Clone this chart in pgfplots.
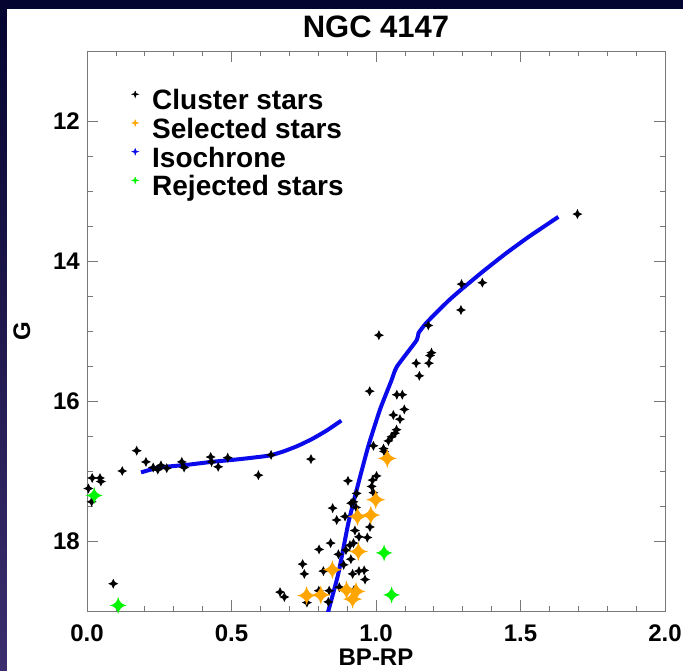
\documentclass[border=0pt]{standalone}
\usepackage{fontspec}
\setmainfont{Liberation Sans}
\usepackage{pgfplots}
\pgfplotsset{compat=1.18}

\definecolor{slidebg}{RGB}{4,4,48}
\definecolor{slidepurple}{RGB}{60,46,110}
\definecolor{selorange}{RGB}{255,165,0}
\definecolor{rejgreen}{RGB}{0,245,0}
\definecolor{isoblue}{RGB}{10,10,235}
\definecolor{axgray}{RGB}{120,120,120}

% four-pointed concave star, as IDL usersym
\pgfdeclareplotmark{sparkle}{%
  \pgfpathmoveto{\pgfqpoint{0pt}{\pgfplotmarksize}}%
  \pgfpathquadraticcurveto{\pgfqpoint{0.15\pgfplotmarksize}{0.15\pgfplotmarksize}}{\pgfqpoint{\pgfplotmarksize}{0pt}}%
  \pgfpathquadraticcurveto{\pgfqpoint{0.15\pgfplotmarksize}{-0.15\pgfplotmarksize}}{\pgfqpoint{0pt}{-\pgfplotmarksize}}%
  \pgfpathquadraticcurveto{\pgfqpoint{-0.15\pgfplotmarksize}{-0.15\pgfplotmarksize}}{\pgfqpoint{-\pgfplotmarksize}{0pt}}%
  \pgfpathquadraticcurveto{\pgfqpoint{-0.15\pgfplotmarksize}{0.15\pgfplotmarksize}}{\pgfqpoint{0pt}{\pgfplotmarksize}}%
  \pgfpathclose
  \pgfusepathqfill}

\pgfplotsset{
  legstar/.style={legend image code/.code={%
    \path (-4pt,0pt) (15pt,0pt);
    \filldraw[#1, line width=0.5pt] (0pt,9pt) +(0pt,3.3pt) .. controls +(0.5pt,-2.8pt) .. +(3.3pt,0pt)
      .. controls +(-2.8pt,-0.5pt) .. +(0pt,-3.3pt)
      .. controls +(-0.5pt,2.8pt) .. +(-3.3pt,0pt)
      .. controls +(2.8pt,0.5pt) .. +(0pt,3.3pt);}}
}

\begin{document}
\begin{tikzpicture}
\useasboundingbox (0pt,0pt) rectangle (683pt,671pt);
\fill[slidebg] (0pt,0pt) rectangle (683pt,671pt);
\shade[top color=slidebg, bottom color=slidepurple] (0pt,0pt) rectangle (7pt,671pt);
\fill[white] (7pt,0pt) rectangle (683pt,662pt);
\begin{axis}[
  at={(87pt,60pt)}, anchor=south west,
  scale only axis, width=578pt, height=560pt,
  xmin=0, xmax=2, ymin=11, ymax=19, y dir=reverse,
  xtick={0,0.5,1,1.5,2}, minor x tick num=4,
  ytick={12,14,16,18}, minor y tick num=3,
  xticklabel style={/pgf/number format/fixed, /pgf/number format/fixed zerofill,
    /pgf/number format/precision=1, inner sep=0pt, yshift=-14pt},
  yticklabel style={inner sep=0pt, xshift=-7pt},
  /pgf/number format/assume math mode=true,
  tick label style={font=\bfseries\fontsize{24}{24}\selectfont},
  tick align=inside, major tick length=11pt, minor tick length=5.5pt,
  tick style={axgray, line width=0.8pt},
  axis line style={axgray, line width=0.9pt},
  title={NGC 4147},
  title style={font=\bfseries\fontsize{31}{31}\selectfont, at={(0.5,1.032)}, anchor=center},
  xlabel={BP-RP},
  xlabel style={font=\bfseries\fontsize{24}{24}\selectfont, at={(0.5,-0.082)}, anchor=center},
  ylabel={G},
  ylabel style={font=\bfseries\fontsize{24}{24}\selectfont, at={(-0.1125,0.5)}, anchor=center, rotate=0},
  unbounded coords=jump,
  legend cell align=left,
  legend style={draw=none, fill=none, inner sep=0pt, row sep=0pt,
    at={(0.0727,0.9327)}, anchor=north west,
    font=\bfseries\fontsize{28}{28}\selectfont,
    nodes={inner sep=0pt, text height=21pt, text depth=7.7pt}},
]

% cluster stars
\addplot[only marks, mark=sparkle, mark size=5pt, color=black, legstar=black] coordinates {
(0.005,17.25) (0.016,17.44) (0.018,17.10) (0.045,17.10) (0.048,17.15)
(0.091,18.61) (0.122,17.00) (0.172,16.71) (0.204,16.87) (0.229,16.95)
(0.245,16.98) (0.256,16.92) (0.276,16.96) (0.328,16.87) (0.336,16.95)
(0.428,16.80) (0.431,16.87) (0.454,16.94) (0.487,16.81) (0.593,17.06)
(0.637,16.77) (0.775,16.83)
(0.668,18.73) (0.683,18.80) (0.746,18.33) (0.752,18.47) (0.761,18.88)
(0.802,18.71) (0.803,18.12) (0.818,18.43) (0.835,18.87) (0.838,18.71)
(0.843,18.03) (0.850,17.53) (0.864,17.70) (0.870,18.19) (0.873,18.66)
(0.888,18.34) (0.893,17.65) (0.896,18.13) (0.903,17.14) (0.910,18.06)
(0.913,18.26) (0.914,17.46) (0.919,18.47) (0.922,17.44) (0.922,18.03)
(0.924,18.70) (0.927,17.85) (0.931,17.52) (0.933,17.32) (0.941,17.94)
(0.941,18.43) (0.959,18.42) (0.962,18.55) (0.970,17.95) (0.979,17.80)
(0.985,17.22) (0.988,17.13) (0.991,17.31) (0.991,16.64) (1.002,17.07)
(1.026,16.68) (1.028,16.72) (1.043,16.57) (1.054,16.51) (1.066,16.46)
(1.071,16.41) (1.060,16.20) (1.083,16.26) (1.098,16.12)
(0.978,15.86) (1.072,15.91) (1.091,15.91) (1.010,15.06)
(1.139,15.46) (1.150,15.64) (1.183,15.46) (1.187,15.35) (1.192,15.31)
(1.181,14.92) (1.294,14.70) (1.296,14.33) (1.368,14.31) (1.697,13.33)
};
\addlegendentry{Cluster stars}

% selected stars
\addplot[only marks, mark=sparkle, mark size=9.5pt, color=selorange, legstar=selorange] coordinates {
(1.039,16.82) (0.999,17.41) (0.982,17.63) (0.936,17.65) (0.939,18.15)
(0.849,18.41) (0.760,18.78) (0.809,18.77) (0.898,18.70) (0.931,18.72)
(0.919,18.83)
};
\addlegendentry{Selected stars}

% isochrone
\addplot[isoblue, line width=4pt, mark=none, smooth, tension=0.3, legstar=isoblue] coordinates {
(0.187,17.02) (0.25,16.95) (0.35,16.91) (0.43,16.87) (0.53,16.83)
(0.63,16.78) (0.68,16.72) (0.73,16.64) (0.78,16.54) (0.83,16.42) (0.88,16.28)
(0.9,nan)
(0.828,19.1) (0.835,19.0) (0.870,18.46) (0.904,17.75) (0.933,17.27)
(0.973,16.65) (1.014,16.12) (1.054,15.70) (1.072,15.51) (1.141,15.13)
(1.147,15.03) (1.175,14.88) (1.25,14.57) (1.30,14.39) (1.37,14.15)
(1.45,13.89) (1.53,13.65) (1.631,13.37)
};
\addlegendentry{Isochrone}

% rejected stars
\addplot[only marks, mark=sparkle, mark size=8.5pt, color=rejgreen, legstar=rejgreen] coordinates {
(0.025,17.35) (0.108,18.92) (1.028,18.17) (1.054,18.77)
};
\addlegendentry{Rejected stars}

\end{axis}
\end{tikzpicture}
\end{document}
